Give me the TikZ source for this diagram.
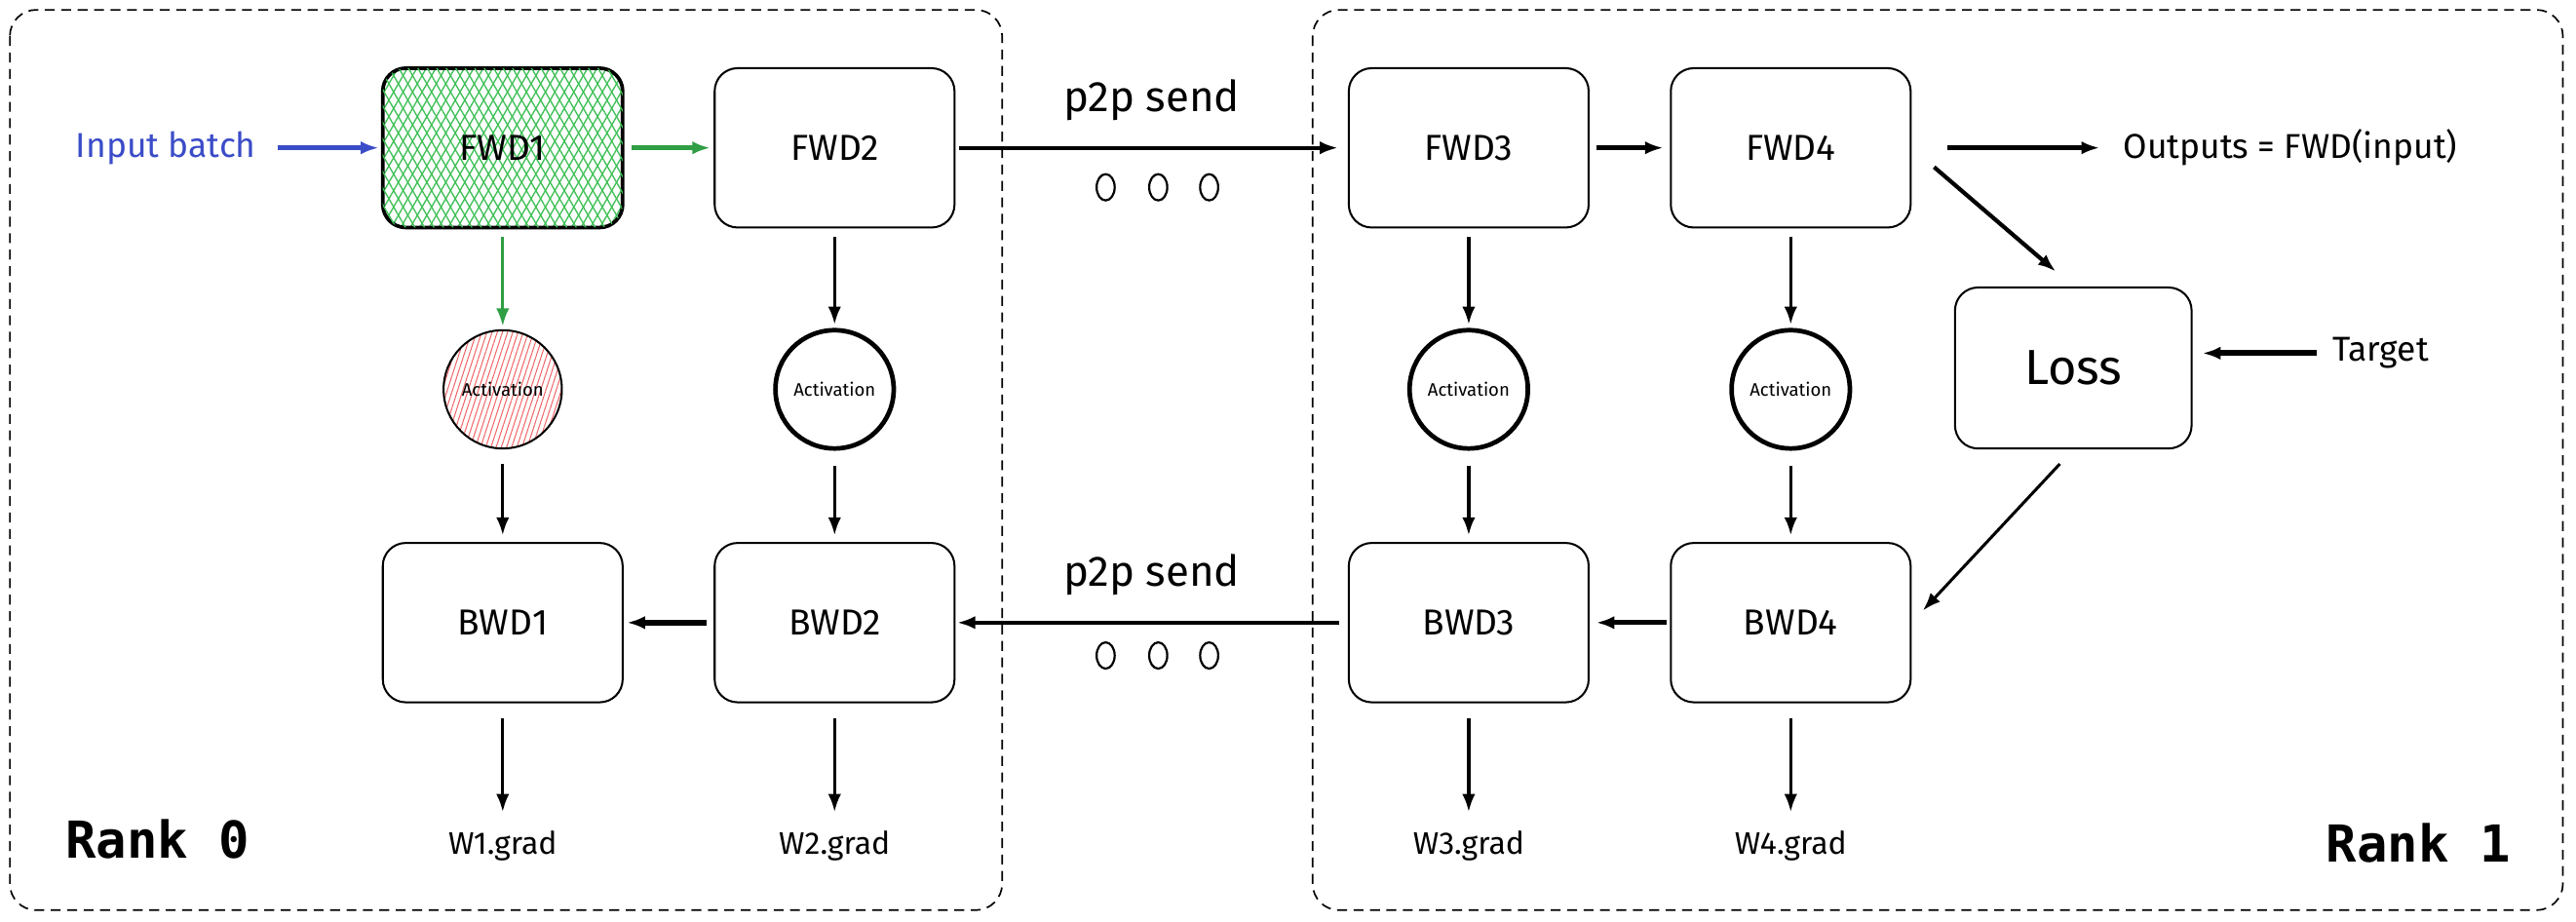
\documentclass[tikz,border=0pt]{standalone}
\usepackage{fontspec}
\setmainfont{Fira Sans}
\setmonofont{DejaVu Sans Mono}
\usetikzlibrary{arrows.meta,patterns.meta,positioning,shapes.geometric}
\definecolor{fwdgreen}{RGB}{47,158,68}
\definecolor{hatchgreen}{RGB}{64,192,87}
\definecolor{hatchred}{RGB}{240,100,100}
\definecolor{inblue}{RGB}{59,76,200}
\begin{document}
\begin{tikzpicture}[x=1pt, y=-1pt, >={Latex[length=11pt,width=8pt]},
  main node/.style={rectangle, rounded corners=14pt, draw, line width=1.2pt, minimum width=146pt, minimum height=97pt, font=\fontsize{22}{26}\selectfont},
  act node/.style={circle, draw, line width=2.8pt, minimum size=72pt, inner sep=0pt, font=\fontsize{11}{13}\selectfont},
  dot node/.style={ellipse, draw, line width=1.3pt, minimum width=11pt, minimum height=16pt, inner sep=0pt},
  rank box/.style={draw, dash pattern=on 6pt off 4pt, line width=1pt, rounded corners=16pt},
  rank node/.style={font=\ttfamily\bfseries\fontsize{31}{36}\selectfont},
  big arrow/.style={->, line width=3pt},
  small arrow/.style={->, line width=2pt}]
            \tikzstyle{every node}=[font=\fontsize{21}{25}\selectfont]
            \useasboundingbox (0,0) rectangle (1568,561);

            % rank areas
            \draw[rank box] (6,6) rectangle (610,554);
            \draw[rank box] (799,6) rectangle (1560,554);
            \node[rank node] (r0) at (96,511) {Rank 0};
            \node[rank node] (r1) at (1472,513) {Rank 1};

              \node[main node, line width=2.2pt,
                    pattern={Lines[angle=60,distance=5pt,line width=.8pt]}, pattern color=hatchgreen,
                    postaction={pattern={Lines[angle=120,distance=5pt,line width=.8pt]}, pattern color=hatchgreen}]
                    (f1) at (306,90) {FWD1};
              \node[main node] (f2) [right of=f1, node distance=202pt] {FWD2};
              \node[main node] (f3) [right of=f2, node distance=386pt] {FWD3};
              \node[main node] (f4) [right of=f3, node distance=196pt] {FWD4};
              \node[main node, minimum width=144pt, minimum height=98pt, font=\fontsize{30}{34}\selectfont] (loss) at (1262,224) {Loss};

              \node[act node, line width=1.2pt,
                    pattern={Lines[angle=72,distance=3pt,line width=.6pt]}, pattern color=hatchred]
                    (a1) [below of=f1, node distance=147pt] {Activation};
              \node[act node] (a2) [below of=f2, node distance=147pt] {Activation};
              \node[act node] (a3) [below of=f3, node distance=147pt] {Activation};
              \node[act node] (a4) [below of=f4, node distance=147pt] {Activation};

              \node[main node] (b1) [below of=a1, node distance=142pt] {BWD1};
              \node[main node] (b2) [below of=a2, node distance=142pt] {BWD2};
              \node[main node] (b3) [below of=a3, node distance=142pt] {BWD3};
              \node[main node] (b4) [below of=a4, node distance=142pt] {BWD4};

              \node[font=\fontsize{19}{23}\selectfont] (g1) [below of=b1, node distance=136pt] {W1.grad};
              \node[font=\fontsize{19}{23}\selectfont] (g2) [below of=b2, node distance=136pt] {W2.grad};
              \node[font=\fontsize{19}{23}\selectfont] (g3) [below of=b3, node distance=136pt] {W3.grad};
              \node[font=\fontsize{19}{23}\selectfont] (g4) [below of=b4, node distance=136pt] {W4.grad};

              \node[text=inblue] (in) [left of=f1, node distance=205pt] {Input batch};
              \node[anchor=west] (out) at (1289,90) {Outputs = FWD(input)};
              \node (tgt) at (1449,215) {Target};

              \foreach \x in {673,705,736} {
                \node[dot node] at (\x,114) {};
                \node[dot node] at (\x,399) {};
              }

	          \draw[big arrow, inblue, shorten <=10pt, shorten >=2pt] (in) -- (f1);
	          \path[big arrow, fwdgreen]
	            (f1) edge [shorten <=5pt, shorten >=2pt] (f2);
	          \path[small arrow, fwdgreen]
	            (f1) edge [shorten <=5pt, shorten >=2pt] (a1);

	          \path[->, line width=2.2pt, every node/.style={font=\fontsize{26}{30}\selectfont}]
	            (f2) edge [shorten <=2pt, shorten >=6pt] node [above=12pt] {p2p send} (f3)
	            (b3) edge [shorten <=5pt, shorten >=1pt] node [above=12pt] {p2p send} (b2);

	          \path[big arrow]
	            (f3) edge [shorten <=4pt, shorten >=4pt] (f4)
	            (f4.east) edge [shorten <=22pt, shorten >=11pt] (out.west)
	            (b4) edge [shorten <=2pt, shorten >=4pt] (b3);
	          \path[->, line width=3.5pt]
	            (b2) edge [shorten <=4pt, shorten >=2pt] (b1)
	            (tgt.west) edge [shorten <=6pt, shorten >=6pt] (loss.east |- tgt.west);
	          \path[->, line width=2.5pt]
	            (f4.east) edge [shorten <=18pt, shorten >=14pt] (loss.north);
	          \path[->, line width=1.8pt]
	            (loss.south) edge [shorten <=12pt, shorten >=10pt] (b4.east);

	          \path[small arrow]
	            (f2) edge [shorten <=5pt, shorten >=2pt] (a2)
	            (f3) edge [shorten <=5pt, shorten >=2pt] (a3)
	            (f4) edge [shorten <=5pt, shorten >=2pt] (a4)
	            (a1) edge [shorten <=9pt, shorten >=4pt] (b1)
	            (a2) edge [shorten <=9pt, shorten >=4pt] (b2)
	            (a3) edge [shorten <=9pt, shorten >=4pt] (b3)
	            (a4) edge [shorten <=9pt, shorten >=4pt] (b4)
	            (b1) edge [shorten <=9pt, shorten >=8pt] (g1)
	            (b2) edge [shorten <=9pt, shorten >=8pt] (g2)
	            (b3) edge [shorten <=9pt, shorten >=8pt] (g3)
	            (b4) edge [shorten <=9pt, shorten >=8pt] (g4);

            \end{tikzpicture}
\end{document}
